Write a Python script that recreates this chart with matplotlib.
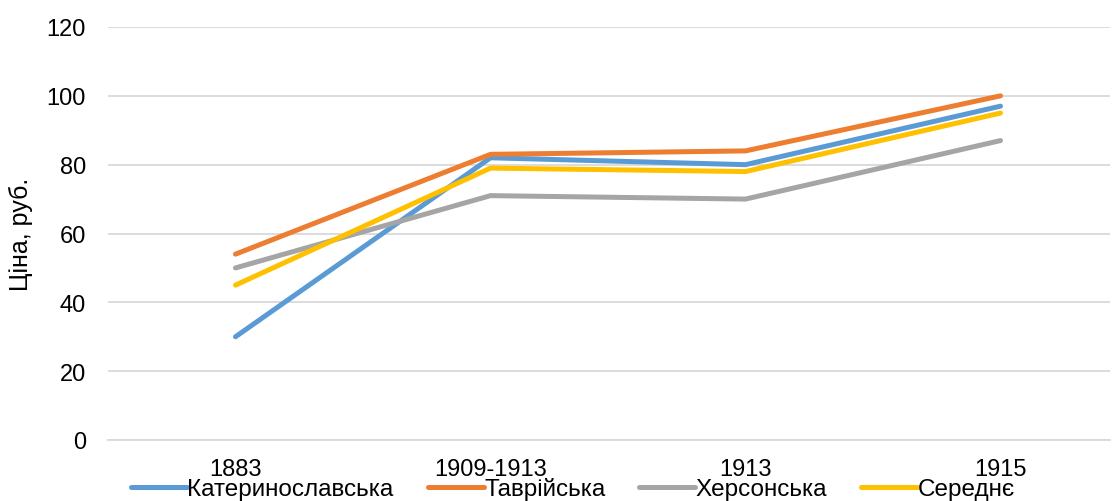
import matplotlib
matplotlib.use("Agg")
import matplotlib.pyplot as plt

# дані
periods = ["1883", "1909-1913", "1913", "1915"]
katerynoslavska = [30, 82, 80, 97]
tavriiska = [54, 83, 84, 100]
khersonska = [50, 71, 70, 87]
serednie = [45, 79, 78, 95]

names = ["Катеринославська", "Таврійська", "Херсонська", "Середнє"]
colors = ["#5B9BD5", "#ED7D31", "#A5A5A5", "#FFC000"]

plt.rcParams["font.family"] = ["Liberation Sans", "DejaVu Sans"]

fig = plt.figure(figsize=(11.18, 5.02), dpi=100)
ax = fig.add_axes([108 / 1118, 61 / 502, (1110 - 108) / 1118, (441 - 28) / 502])

x = list(range(len(periods)))
for vals, name, c in zip([katerynoslavska, tavriiska, khersonska, serednie], names, colors):
    ax.plot(x, vals, color=c, lw=3.6, label=name, solid_capstyle="round", solid_joinstyle="round")

ax.set_xlim(-0.5, -0.5 + (1110 - 108) / 255)
ax.set_ylim(0, 120)
ax.set_yticks(range(0, 121, 20))
ax.set_xticks(x)
ax.set_xticklabels(periods)

ax.grid(axis="y", color="#D9D9D9", lw=1.3)
ax.set_axisbelow(True)
for s in ["top", "right", "left"]:
    ax.spines[s].set_visible(False)
ax.spines["bottom"].set_color("#D9D9D9")
ax.spines["bottom"].set_linewidth(1.3)
ax.tick_params(axis="both", length=0, labelsize=17, colors="black")
ax.tick_params(axis="x", pad=13)
ax.tick_params(axis="y", pad=16)

ax.set_ylabel("Ціна, руб.", fontsize=18, labelpad=10)

fig.legend(loc="center", bbox_to_anchor=(573 / 1118, 1 - 490 / 502), ncol=4, frameon=False,
           fontsize=17.5, handlelength=2.3, handletextpad=0.02, columnspacing=1.4,
           borderpad=0, borderaxespad=0)

fig.savefig("out.png", dpi=100)
